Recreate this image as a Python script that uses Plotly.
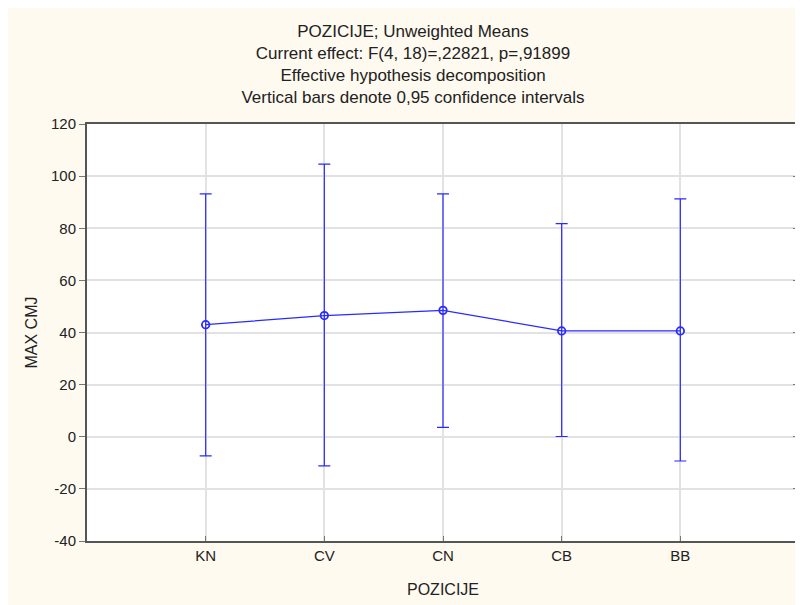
import plotly.graph_objects as go

categories = ["KN", "CV", "CN", "CB", "BB"]
means = [43.0, 46.5, 48.5, 40.6, 40.6]
upper = [93.2, 104.6, 93.2, 81.8, 91.3]
lower = [-7.3, -11.2, 3.6, 0.1, -9.3]
y_ticks = [-40, -20, 0, 20, 40, 60, 80, 100, 120]
y_tick_labels = ["-40", "-20", "0", "20", "40", "60", "80", "100", "120"]

x_pos = list(range(1, len(categories) + 1))
err_plus = [u - m for u, m in zip(upper, means)]
err_minus = [m - l for m, l in zip(means, lower)]

blue = "#2a2aff"
cream = "#fefaf0"
font = "Liberation Sans, Arial, sans-serif"

# page body has an 8px margin, so the figure is sized to fit the window
W, H = 795, 597

fig = go.Figure()
fig.add_trace(go.Scatter(
    x=x_pos, y=means, mode="lines+markers",
    line=dict(color=blue, width=1.2),
    marker=dict(symbol="circle-open", size=7.5, color=blue, line=dict(width=1.8, color=blue)),
    error_y=dict(type="data", symmetric=False, array=err_plus, arrayminus=err_minus,
                 color=blue, thickness=1.2, width=6),
    showlegend=False,
))
# invisible trace for right-side mirrored axis ticks
fig.add_trace(go.Scatter(x=[x_pos[0]], y=[means[0]], yaxis="y2", mode="markers",
                         marker=dict(opacity=0), showlegend=False, hoverinfo="skip"))

fig.update_layout(
    width=W, height=H,
    paper_bgcolor=cream, plot_bgcolor="white",
    margin=dict(l=79, r=4, t=116, b=64, autoexpand=False),
    font=dict(family=font, size=15, color="#222"),
    title=dict(
        text="POZICIJE; Unweighted Means<br>Current effect: F(4, 18)=,22821, p=,91899<br>"
             "Effective hypothesis decomposition<br>Vertical bars denote 0,95 confidence intervals",
        x=405 / W, xref="container", xanchor="center",
        y=0.952, yref="container", yanchor="top",
        font=dict(family=font, size=17, color="#222"),
    ),
    xaxis=dict(
        range=[0, 6], tickvals=x_pos, ticktext=categories,
        showgrid=True, gridcolor="#e2e2e2", gridwidth=1.5,
        ticks="inside", ticklen=5, tickcolor="#777",
        showline=True, linecolor="#555", linewidth=2, mirror=True,
        zeroline=False, automargin=False,
        title=dict(text="POZICIJE", standoff=21, font=dict(size=16)),
        tickfont=dict(size=15),
    ),
    yaxis=dict(
        range=[-40, 120], tickvals=y_ticks, ticktext=y_tick_labels,
        showgrid=True, gridcolor="#e2e2e2", gridwidth=1.5,
        ticks="outside", ticklen=6, tickcolor="#777",
        showline=True, linecolor="#555", linewidth=2, mirror=True,
        zeroline=False, automargin=False,
        title=dict(text="MAX CMJ", standoff=9, font=dict(size=16)),
        tickfont=dict(size=15),
    ),
    yaxis2=dict(
        overlaying="y", side="right", matches="y", range=[-40, 120], tickvals=y_ticks,
        showticklabels=False, ticks="inside", ticklen=6, tickcolor="#777",
        showgrid=False, zeroline=False, showline=False, automargin=False,
    ),
)

fig.write_html("out.html")
